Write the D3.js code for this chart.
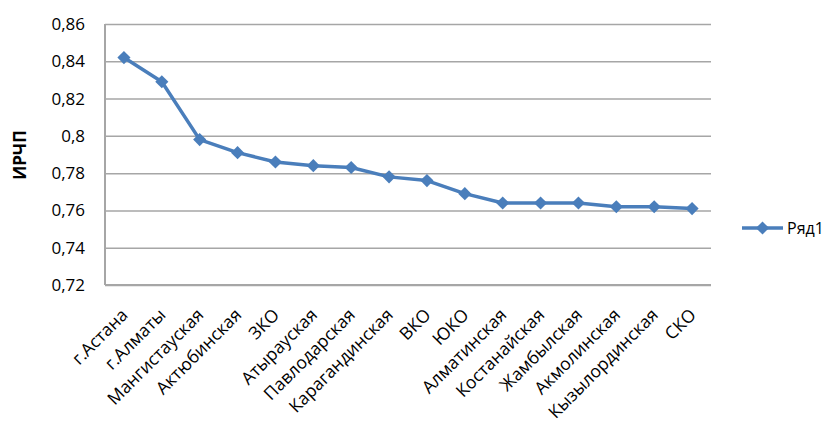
<!DOCTYPE html>
<html>
<head>
<meta charset="utf-8">
<script src="https://cdn.jsdelivr.net/npm/d3@7"></script>
<style>
  html, body { margin: 0; padding: 0; background: #fff; }
  svg { display: block; font-family: "Open Sans", sans-serif; }
</style>
</head>
<body>
<svg id="chart" width="831" height="427"></svg>
<script>
// Regions of Kazakhstan and their ИРЧП index values
const regions = ["г.Астана", "г.Алматы", "Мангистауская", "Актюбинская", "ЗКО", "Атырауская",
  "Павлодарская", "Карагандинская", "ВКО", "ЮКО", "Алматинская", "Костанайская",
  "Жамбылская", "Акмолинская", "Кызылординская", "СКО"];
const values = [0.842, 0.829, 0.798, 0.791, 0.786, 0.784, 0.783, 0.778, 0.776, 0.769,
  0.764, 0.764, 0.764, 0.762, 0.762, 0.761];
const yTicks = [0.72, 0.74, 0.76, 0.78, 0.80, 0.82, 0.84, 0.86];
const seriesName = "Ряд1";
const axisTitle = "ИРЧП";

const svg = d3.select("#chart");
const plot = { left: 105, right: 711, top: 24, bottom: 285 };
const blue = "#4a7ebb";
const gridColor = "#a6a6a6";

const x = d3.scaleBand().domain(regions).range([plot.left, plot.right]);
const y = d3.scaleLinear().domain([0.72, 0.86]).range([plot.bottom, plot.top]);
const fmt = v => d3.format(".2~f")(v).replace(".", ",");

// Horizontal gridlines with value labels
const yAxis = d3.axisLeft(y).tickValues(yTicks).tickSize(-(plot.right - plot.left)).tickFormat(fmt).tickPadding(20);
const gy = svg.append("g").attr("transform", `translate(${plot.left},0)`).call(yAxis);
gy.select(".domain").remove();
gy.selectAll(".tick line").attr("stroke", gridColor).attr("stroke-width", 1.5);
gy.selectAll(".tick text").attr("fill", "#000").style("font-size", "17px").style("font-family", "'Open Sans', sans-serif");

// Axis lines
svg.append("line").attr("x1", plot.left).attr("x2", plot.left).attr("y1", plot.top).attr("y2", plot.bottom)
  .attr("stroke", gridColor).attr("stroke-width", 2);
svg.append("line").attr("x1", plot.left).attr("x2", plot.right).attr("y1", plot.bottom).attr("y2", plot.bottom)
  .attr("stroke", gridColor).attr("stroke-width", 2);

// Category labels, rotated
const xAxis = d3.axisBottom(x).tickSize(0).tickPadding(0);
const gx = svg.append("g").attr("transform", `translate(0,${plot.bottom})`).call(xAxis);
gx.select(".domain").remove();
gx.selectAll(".tick text")
  .attr("fill", "#000")
  .style("font-size", "17.5px")
  .style("font-family", "'Open Sans', sans-serif")
  .attr("text-anchor", "end")
  .attr("dy", null)
  .attr("y", 0)
  .attr("transform", "translate(5,31) rotate(-45)");

// Y axis title
svg.append("text")
  .attr("transform", "translate(26,155) rotate(-90)")
  .attr("text-anchor", "middle")
  .style("font-size", "17px")
  .style("font-weight", "bold")
  .text(axisTitle);

// Series line and markers
const cx = d => x(d) + x.bandwidth() / 2;
const line = d3.line().x((d, i) => cx(regions[i])).y(d => y(d));
svg.append("path").datum(values).attr("d", line)
  .attr("fill", "none").attr("stroke", blue).attr("stroke-width", 3.5).attr("stroke-linejoin", "round");

const diamond = d3.symbol().type(d3.symbolDiamond2).size(110);
svg.append("g").selectAll("path").data(values).join("path")
  .attr("d", diamond)
  .attr("transform", (d, i) => `translate(${cx(regions[i])},${y(d)})`)
  .attr("fill", blue);

// Legend
const lg = svg.append("g").attr("transform", "translate(742,228)");
lg.append("line").attr("x1", 0).attr("x2", 41).attr("y1", 0).attr("y2", 0)
  .attr("stroke", blue).attr("stroke-width", 3.5);
lg.append("path").attr("d", diamond).attr("transform", "translate(20.5,0)").attr("fill", blue);
lg.append("text").attr("x", 45).attr("y", 0).attr("dy", "0.35em")
  .style("font-size", "16px").attr("fill", "#000").text(seriesName);
</script>
</body>
</html>
